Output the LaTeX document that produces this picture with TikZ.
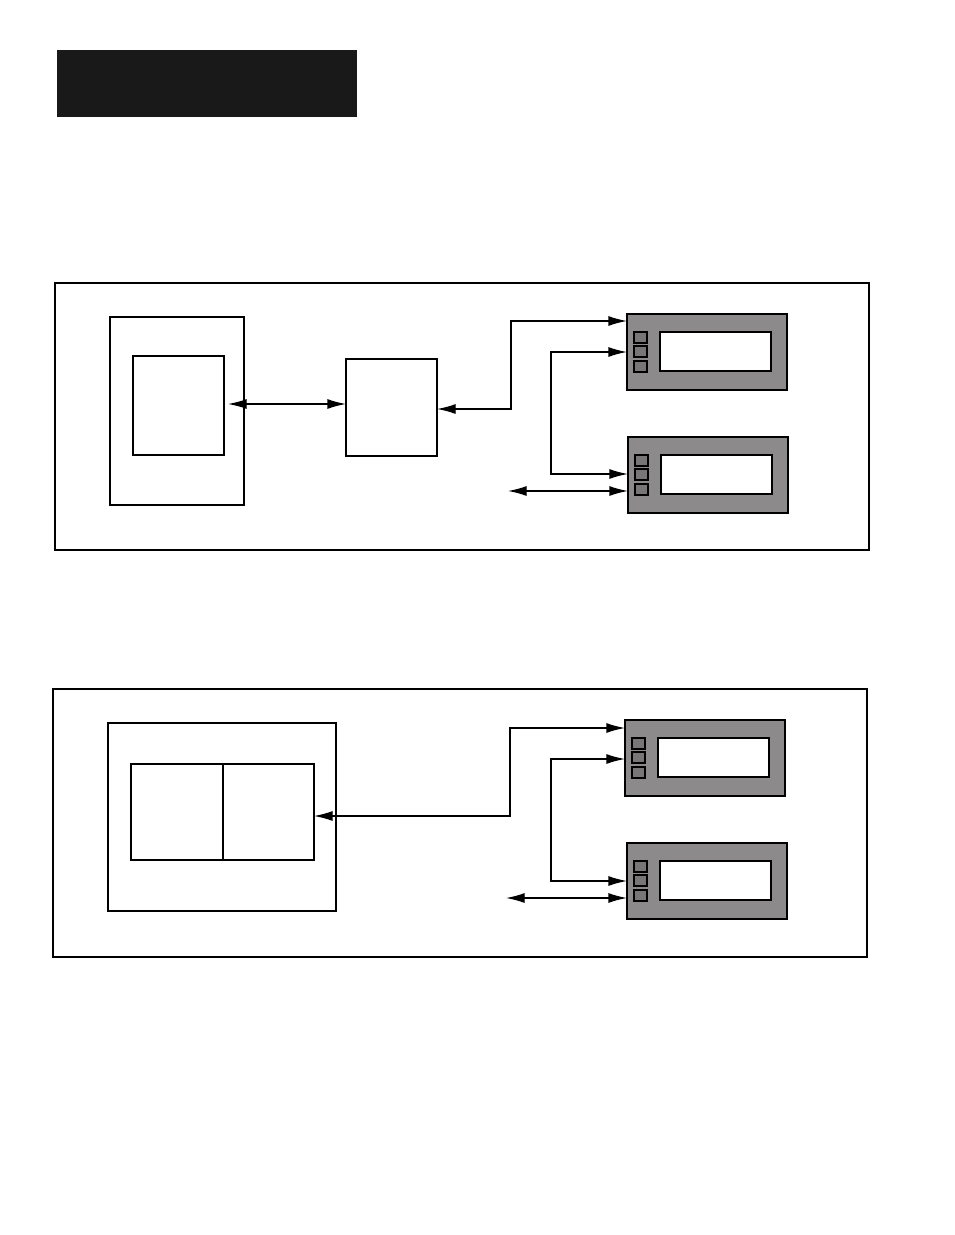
\documentclass[tikz,border=0pt]{standalone}
\usetikzlibrary{arrows.meta}
\definecolor{devgray}{RGB}{140,138,138}
\definecolor{devbtn}{RGB}{120,118,118}
\newcommand{\bx}[6]{%
  \pgfmathsetmacro{\bw}{((#4)-(#2))*0.75}\pgfmathsetmacro{\bh}{((#5)-(#3))*0.75}%
  \node[#6,minimum width=\bw pt,minimum height=\bh pt,anchor=north west] (#1) at (#2,#3) {};}
\newcommand{\device}[3]{%
  \bx{#1}{#2}{#3}{#2+160}{#3+76}{dev}
  \bx{#1s}{#2+33}{#3+18}{#2+144}{#3+57}{scr}
  \bx{#1b1}{#2+7}{#3+18}{#2+20}{#3+29}{btn}
  \bx{#1b2}{#2+7}{#3+32}{#2+20}{#3+43}{btn}
  \bx{#1b3}{#2+7}{#3+47}{#2+20}{#3+58}{btn}}
\begin{document}
\begin{tikzpicture}[x=0.75pt,y=-0.75pt,
  plain/.style={draw=black,line width=1pt,inner sep=0pt,outer sep=0pt},
  frame/.style={draw=black,line width=0.8pt,inner sep=0pt,outer sep=0pt},
  dev/.style={draw=black,fill=devgray,line width=1.4pt,inner sep=0pt,outer sep=0pt},
  scr/.style={draw=black,fill=white,line width=1pt,inner sep=0pt,outer sep=0pt},
  btn/.style={draw=black,fill=devbtn,line width=0.8pt,inner sep=0pt,outer sep=0pt},
  conn/.style={line width=1pt,{Latex[length=14pt,width=7.5pt]}-{Latex[length=14pt,width=7.5pt]}}]
\useasboundingbox (0,0) rectangle (954,1235);
\fill[white] (0,0) rectangle (954,1235);
\bx{hdr}{57}{50}{357}{117}{fill=black!90,inner sep=0pt}
% panel 1
\bx{f1}{55}{283}{869}{550}{frame}
\bx{a1}{110}{317}{244}{505}{plain}
\bx{a1i}{133}{356}{224}{455}{plain}
\bx{b1}{346}{359}{437}{456}{plain}
\device{d1}{627}{314}
\device{d2}{628}{437}
\draw[conn] (228,404) -- (b1.west |- 0,404);
\draw[conn] (b1.east |- 0,409) -- (511,409) |- (d1.west |- 0,321);
\draw[conn] (d1.west |- 0,352) -| (551,474) -- (d2.west |- 0,474);
\coordinate (e1) at (508,491);
\draw[conn] (e1) -- (d2.west |- 0,491);
% panel 2
\bx{f2}{53}{689}{867}{957}{frame}
\bx{a2}{108}{723}{336}{911}{plain}
\bx{c2l}{131}{764}{223}{860}{plain}
\bx{c2r}{223}{764}{314}{860}{plain}
\device{d3}{625}{720}
\device{d4}{627}{843}
\draw[conn] (c2r.east |- 0,816) -- (510,816) |- (d3.west |- 0,728);
\draw[conn] (d3.west |- 0,759) -| (551,881) -- (d4.west |- 0,881);
\coordinate (e2) at (506,898);
\draw[conn] (e2) -- (d4.west |- 0,898);
\end{tikzpicture}
\end{document}
